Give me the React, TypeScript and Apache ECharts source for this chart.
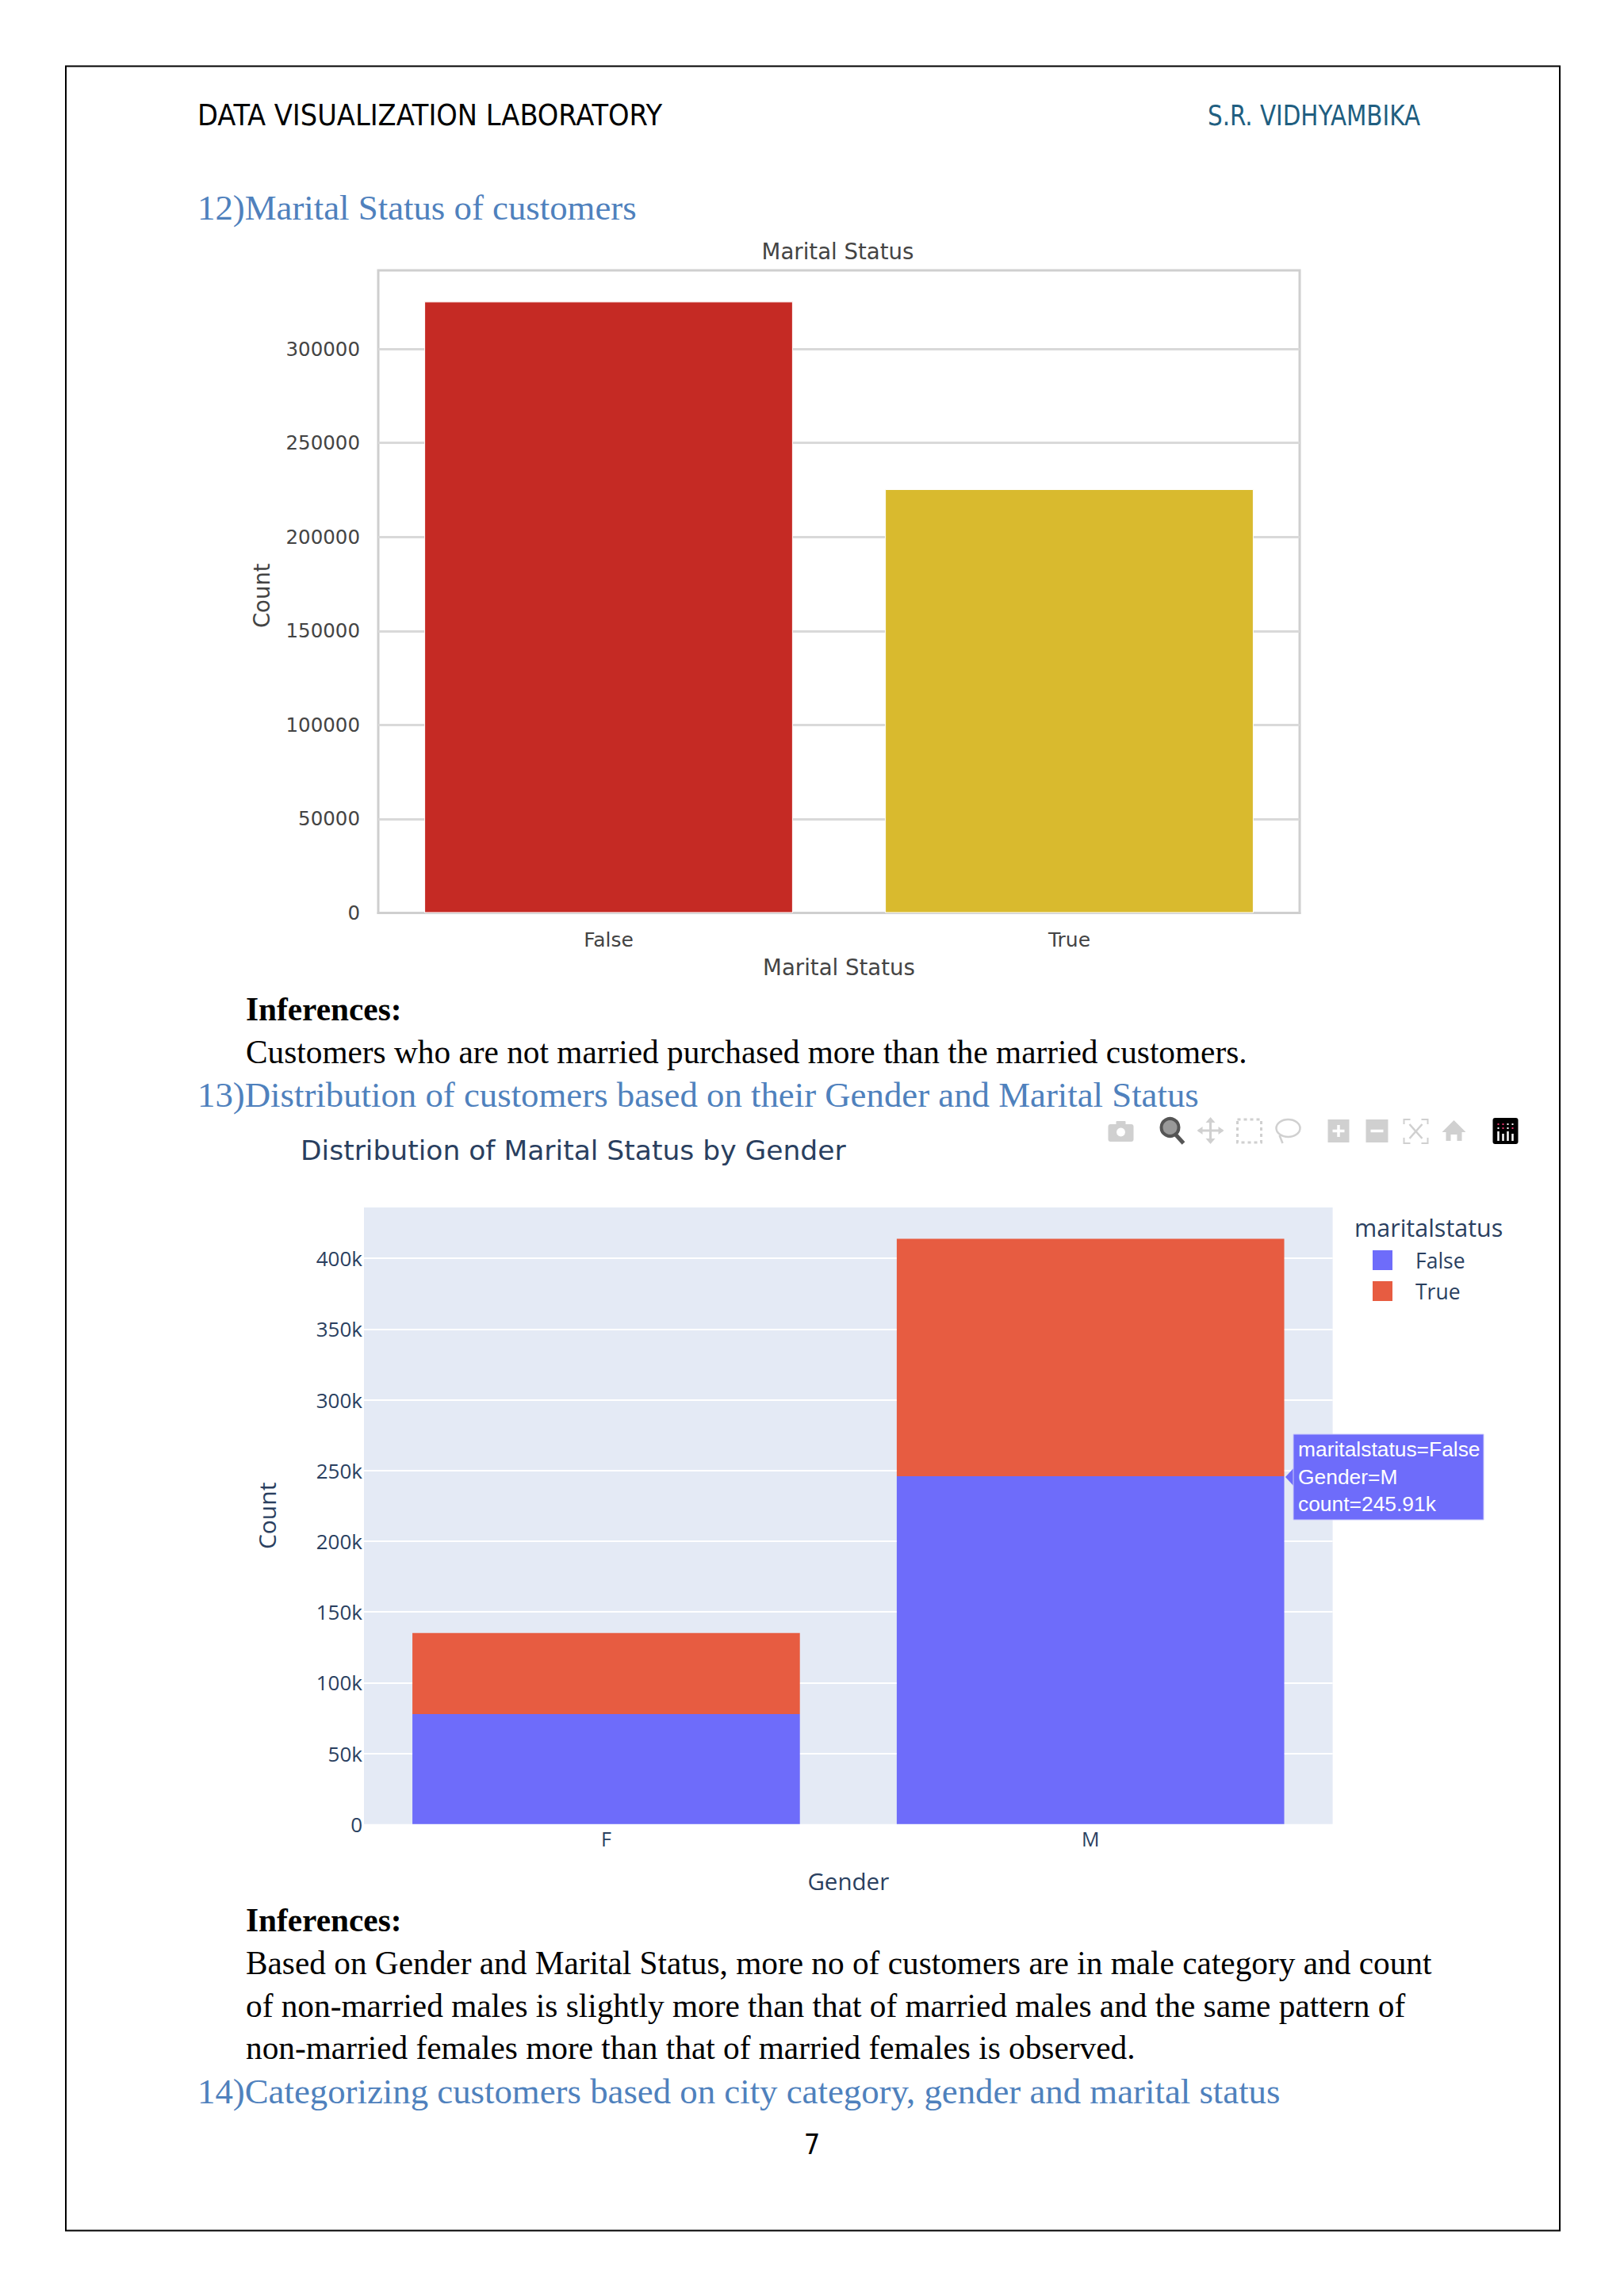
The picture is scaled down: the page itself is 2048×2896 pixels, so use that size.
import React, { useEffect, useRef } from "react";
import * as echarts from "echarts";

// ---- data
const maritalCategories = ["False", "True"];
const maritalCounts = [325200, 225400];
const genderCategories = ["F", "M"];
const falseCounts = [77800, 245910];
const trueCounts = [57300, 167900];
const legendNames = ["False", "True"];
const tooltipLines = ["maritalstatus=False", "Gender=M", "count=245.91k"];

const SANS = "'DejaVu Sans'";
const COND = "'DejaVu Sans Condensed','DejaVu Sans'";
const OPEN = "'Open Sans'";
const SERIF = "'Liberation Serif'";
const BLUE = "#4f81bd";
const PLOT_TEXT = "#2a3f5f";
const GREY_TEXT = "#444444";
const PURPLE = "#6e6cfa";
const ORANGE = "#e75c41";
const MODE = "#d0d0d0";

type TextLine = [string, number, number, number, string, string, number?, string?, string?];
const pageText: TextLine[] = [
  ["DATA VISUALIZATION LABORATORY", 249, 145, 38, COND, "#000000", 0.986],
  ["S.R. VIDHYAMBIKA", 1523, 145, 36, COND, "#205e80", 0.908],
  ["12)Marital Status of customers", 249, 262, 44.8, SERIF, BLUE],
  ["Inferences:", 310, 1273, 41.3, SERIF, "#000000", 1, "bold"],
  ["Customers who are not married purchased more than the married customers.", 310, 1327, 41.3, SERIF, "#000000"],
  ["13)Distribution of customers based on their Gender and Marital Status", 249, 1381, 44.8, SERIF, BLUE],
  ["Inferences:", 310, 2422, 41.3, SERIF, "#000000", 1, "bold"],
  ["Based on Gender and Marital Status, more no of customers are in male category and count", 310, 2476, 41.3, SERIF, "#000000"],
  ["of non-married males is slightly more than that of married males and the same pattern of", 310, 2530, 41.3, SERIF, "#000000"],
  ["non-married females more than that of married females is observed.", 310, 2583, 41.3, SERIF, "#000000"],
  ["14)Categorizing customers based on city category, gender and marital status", 249, 2638, 44.8, SERIF, BLUE],
  ["7", 1024, 2704, 36, COND, "#000000", 1, "normal", "center"],
  ["maritalstatus", 1708, 1548, 30.5, OPEN, PLOT_TEXT],
  ["Distribution of Marital Status by Gender", 379, 1451, 34.5, SANS, PLOT_TEXT, 1],
];

function textEl([text, x, y, size, family, fill, scaleX, weight, align]: TextLine) {
  return {
    type: "text",
    x,
    y,
    z: 100,
    scaleX: scaleX || 1,
    silent: true,
    style: { text, fontSize: size, fontFamily: family, fill, fontWeight: weight || "normal", align: align || "left", verticalAlign: "middle" },
  };
}

function line(x1: number, y1: number, x2: number, y2: number, stroke: string, lineWidth = 3, lineDash?: number[]) {
  return { type: "line", silent: true, z: 100, shape: { x1, y1, x2, y2 }, style: { stroke, lineWidth, lineDash } };
}
function rect(x: number, y: number, width: number, height: number, fill: string, r = 0) {
  return { type: "rect", silent: true, z: 100, shape: { x, y, width, height, r }, style: { fill } };
}
function poly(points: number[][], fill: string) {
  return { type: "polygon", silent: true, z: 100, shape: { points }, style: { fill } };
}
function corner(points: number[][], stroke: string) {
  return { type: "polyline", silent: true, z: 100, shape: { points }, style: { stroke, lineWidth: 2, fill: "none" } };
}

function modebar(): any[] {
  const out: any[] = [];
  // camera
  out.push(rect(1396, 1418, 32, 22, MODE, 3), rect(1406, 1414, 12, 6, MODE, 1));
  out.push({ type: "circle", silent: true, z: 100, shape: { cx: 1412, cy: 1428, r: 7 }, style: { fill: "#fff", stroke: MODE, lineWidth: 3 } });
  // zoom (active)
  out.push(line(1481, 1431, 1491, 1442, "#555555", 5));
  out.push({ type: "circle", silent: true, z: 100, shape: { cx: 1474, cy: 1422, r: 11 }, style: { fill: "#999999", stroke: "#555555", lineWidth: 4 } });
  // pan
  out.push(line(1510, 1426, 1540, 1426, MODE), line(1525, 1411, 1525, 1441, MODE));
  out.push(poly([[1525, 1409], [1519, 1416], [1531, 1416]], MODE), poly([[1525, 1443], [1519, 1436], [1531, 1436]], MODE));
  out.push(poly([[1508, 1426], [1515, 1421], [1515, 1431]], MODE), poly([[1542, 1426], [1535, 1421], [1535, 1431]], MODE));
  // box select
  out.push({ type: "rect", silent: true, z: 100, shape: { x: 1559, y: 1412, width: 30, height: 29 }, style: { fill: "none", stroke: MODE, lineWidth: 3, lineDash: [4, 4] } });
  // lasso
  out.push({ type: "ellipse", silent: true, z: 100, shape: { cx: 1623, cy: 1423, rx: 15, ry: 11 }, style: { fill: "none", stroke: MODE, lineWidth: 2.5 } });
  out.push(line(1612, 1432, 1616, 1442, MODE, 2.5));
  // plus, minus
  out.push(rect(1673, 1412, 27, 29, MODE), line(1679, 1426.5, 1694, 1426.5, "#fff", 3.5), line(1686.5, 1419, 1686.5, 1434, "#fff", 3.5));
  out.push(rect(1721, 1412, 28, 29, MODE), line(1727, 1426.5, 1743, 1426.5, "#fff", 3.5));
  // autoscale
  out.push(corner([[1769, 1418], [1769, 1412], [1777, 1412]], MODE), corner([[1791, 1412], [1799, 1412], [1799, 1418]], MODE));
  out.push(corner([[1769, 1435], [1769, 1442], [1777, 1442]], MODE), corner([[1791, 1442], [1799, 1442], [1799, 1435]], MODE));
  out.push(line(1776, 1418, 1792, 1436, MODE, 2.5), line(1792, 1418, 1776, 1436, MODE, 2.5));
  // home
  out.push(poly([[1832, 1413], [1847, 1428], [1842, 1428], [1842, 1439], [1836, 1439], [1836, 1431], [1828, 1431], [1828, 1439], [1822, 1439], [1822, 1428], [1817, 1428]], MODE));
  // plotly logo
  out.push(rect(1881, 1410, 32, 33, "#000000", 3));
  [1888, 1894, 1900, 1906].forEach((x, i) => {
    out.push(line(x, 1427 + (i % 2) * 3, x, 1439, "#ffffff", 2.5));
    out.push(rect(x - 1, 1417, 2, 2, i < 2 ? "#e8336d" : "#ffffff"));
    out.push(rect(x - 1, 1422, 2, 2, i % 2 ? "#e8336d" : "#ffffff"));
  });
  return out;
}

function tooltipBox(): any[] {
  const x = 1631, y = 1809, w = 240, h = 108;
  const out: any[] = [
    poly([[1621, 1863], [x + 1, 1851], [x + 1, 1875]], PURPLE),
    { type: "rect", silent: true, z: 100, shape: { x, y, width: w, height: h }, style: { fill: PURPLE, stroke: "#c9c8fb", lineWidth: 1 } },
  ];
  tooltipLines.forEach((text, i) => {
    out.push({
      type: "text",
      x: 1637,
      y: 1828 + i * 34.5,
      z: 101,
      silent: true,
      style: { text, fontSize: 26.4, fontFamily: "'Liberation Sans'", fill: "#ffffff", align: "left", verticalAlign: "middle" },
    });
  });
  return out;
}

function buildOption(): any {
  return {
    animation: false,
    backgroundColor: "#ffffff",
    title: [
      { text: "Marital Status", left: 1056.5, top: 303, padding: 0, textAlign: "center", textStyle: { fontFamily: SANS, fontSize: 27.6, fontWeight: "normal", color: GREY_TEXT } },
    ],
    legend: {
      data: legendNames,
      orient: "vertical",
      left: 1731,
      top: 1576,
      padding: 0,
      icon: "rect",
      itemWidth: 25,
      itemHeight: 25,
      itemGap: 12,
      selectedMode: false,
      textStyle: { fontFamily: OPEN, fontSize: 26.5, color: PLOT_TEXT, padding: [0, 0, 0, 24] },
    },
    grid: [
      { left: 477, top: 341, width: 1162, height: 810.5, show: true, borderColor: "#cfcfcf", borderWidth: 3, backgroundColor: "#ffffff", containLabel: false },
      { left: 459, top: 1523, width: 1221.6, height: 777.7, show: true, borderWidth: 0, backgroundColor: "#e4eaf5", containLabel: false },
    ],
    xAxis: [
      {
        type: "category",
        gridIndex: 0,
        data: maritalCategories,
        name: "Marital Status",
        nameLocation: "middle",
        nameGap: 55,
        nameTextStyle: { fontFamily: SANS, fontSize: 27.6, color: GREY_TEXT },
        axisLine: { lineStyle: { color: "#cfcfcf", width: 3 } },
        axisTick: { show: false },
        axisLabel: { fontFamily: SANS, fontSize: 25, color: GREY_TEXT, margin: 21 },
      },
      {
        type: "category",
        gridIndex: 1,
        data: genderCategories,
        name: "Gender",
        nameLocation: "middle",
        nameGap: 57,
        nameTextStyle: { fontFamily: OPEN, fontSize: 29.5, color: PLOT_TEXT },
        axisLine: { show: false },
        axisTick: { show: false },
        axisLabel: { fontFamily: OPEN, fontSize: 25, color: PLOT_TEXT, margin: 6 },
      },
    ],
    yAxis: [
      {
        type: "value",
        gridIndex: 0,
        min: 0,
        max: 341800,
        interval: 50000,
        name: "Count",
        nameLocation: "middle",
        nameGap: 133,
        nameTextStyle: { fontFamily: SANS, fontSize: 27.5, color: GREY_TEXT, padding: [0, 10, 0, 0] },
        axisLine: { show: false },
        axisTick: { show: false },
        axisLabel: { fontFamily: SANS, fontSize: 24.5, color: GREY_TEXT, margin: 23, showMaxLabel: false, formatter: (v: number) => String(v) },
        splitLine: { show: true, showMaxLine: false, showMinLine: false, lineStyle: { color: "#d9d9d9", width: 3 } },
      },
      {
        type: "value",
        gridIndex: 1,
        min: 0,
        max: 436000,
        interval: 50000,
        name: "Count",
        nameLocation: "middle",
        nameGap: 108,
        nameTextStyle: { fontFamily: OPEN, fontSize: 30, color: PLOT_TEXT },
        axisLine: { show: false },
        axisTick: { show: false },
        axisLabel: {
          fontFamily: OPEN,
          fontSize: 26,
          color: PLOT_TEXT,
          margin: 2,
          showMaxLabel: false,
          formatter: (v: number) => (v === 0 ? "0" : `${v / 1000}k`),
        },
        splitLine: { show: true, showMaxLine: false, showMinLine: false, lineStyle: { color: "#ffffff", width: 2 } },
      },
    ],
    series: [
      {
        type: "bar",
        name: "Marital Status",
        xAxisIndex: 0,
        yAxisIndex: 0,
        barWidth: "80%",
        data: maritalCounts.map((value, i) => ({ value, itemStyle: { color: i === 0 ? "#c52a24" : "#d9ba2e" } })),
        itemStyle: { borderColor: "#ffffff", borderWidth: 1 },
      },
      { type: "bar", name: legendNames[0], xAxisIndex: 1, yAxisIndex: 1, stack: "g", barWidth: "80%", data: falseCounts, itemStyle: { color: PURPLE } },
      { type: "bar", name: legendNames[1], xAxisIndex: 1, yAxisIndex: 1, stack: "g", barWidth: "80%", data: trueCounts, itemStyle: { color: ORANGE } },
    ],
    graphic: [
      {
        type: "rect",
        silent: true,
        z: 100,
        shape: { x: 83, y: 83.5, width: 1884, height: 2730 },
        style: { fill: "none", stroke: "#000000", lineWidth: 2 },
      },
      ...pageText.map(textEl),
      { type: "group", x: 1.5, y: 0, children: modebar() },
      ...tooltipBox(),
    ],
  };
}

export default function App() {
  const ref = useRef<HTMLDivElement>(null);
  useEffect(() => {
    const chart = echarts.init(ref.current!, undefined, { renderer: "svg" });
    chart.setOption(buildOption());
    return () => chart.dispose();
  }, []);
  return <div ref={ref} style={{ position: "absolute", left: 0, top: 0, width: 2048, height: 2896 }} />;
}
